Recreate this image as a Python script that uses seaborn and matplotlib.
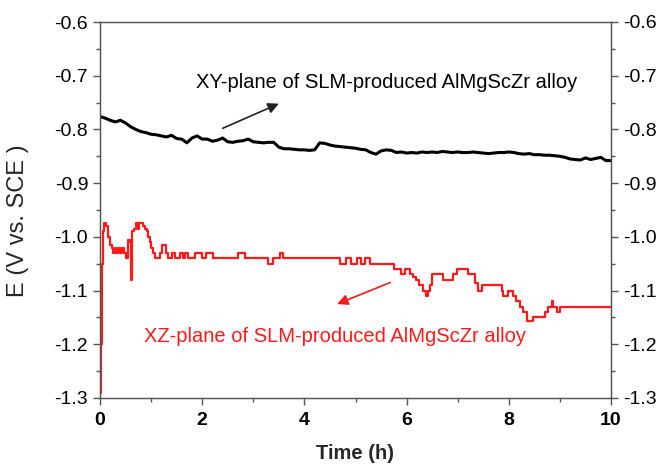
import numpy as np
import pandas as pd
import matplotlib
matplotlib.use("Agg")
import matplotlib.pyplot as plt
import seaborn as sns
from matplotlib.ticker import MultipleLocator, FormatStrFormatter

# ---- data ----
xy_time = [round(0.1 * i, 1) for i in range(101)]
xy_e = [-0.776, -0.779, -0.783, -0.786, -0.783, -0.788, -0.795, -0.800, -0.804, -0.806,
        -0.809, -0.810, -0.812, -0.814, -0.811, -0.817, -0.818, -0.825, -0.816, -0.812,
        -0.818, -0.818, -0.822, -0.820, -0.816, -0.823, -0.824, -0.822, -0.821, -0.818,
        -0.823, -0.824, -0.825, -0.824, -0.824, -0.833, -0.836, -0.836, -0.837, -0.838,
        -0.838, -0.839, -0.838, -0.825, -0.826, -0.829, -0.831, -0.832, -0.833, -0.834,
        -0.835, -0.837, -0.838, -0.843, -0.846, -0.840, -0.838, -0.839, -0.843, -0.842,
        -0.844, -0.843, -0.844, -0.842, -0.843, -0.842, -0.843, -0.841, -0.842, -0.843,
        -0.842, -0.843, -0.843, -0.842, -0.843, -0.844, -0.845, -0.844, -0.843, -0.843,
        -0.842, -0.843, -0.845, -0.846, -0.845, -0.847, -0.847, -0.848, -0.848, -0.849,
        -0.850, -0.852, -0.855, -0.856, -0.857, -0.853, -0.856, -0.854, -0.852, -0.858,
        -0.858]

xz_time = [0.00, 0.02, 0.04, 0.06, 0.08, 0.12, 0.16, 0.20, 0.23, 0.26, 0.29, 0.32, 0.36,
           0.40, 0.44, 0.47, 0.51, 0.55, 0.59, 0.61, 0.63, 0.66, 0.70, 0.74, 0.77, 0.84,
           0.88, 0.91, 0.94, 0.97, 1.00, 1.04, 1.08, 1.17, 1.21, 1.30, 1.34, 1.40, 1.47,
           1.56, 1.62, 1.66, 1.72, 1.86, 1.99, 2.08, 2.21, 2.70, 2.83, 3.29, 3.39, 3.52,
           3.58, 4.69, 4.82, 4.92, 5.02, 5.11, 5.18, 5.28, 5.75, 5.90, 5.97, 6.07, 6.12,
           6.19, 6.25, 6.32, 6.38, 6.42, 6.45, 6.50, 6.72, 6.91, 6.98, 7.21, 7.34, 7.40,
           7.47, 7.86, 7.88, 7.99, 8.09, 8.15, 8.22, 8.28, 8.35, 8.48, 8.71, 8.77, 8.84,
           8.87, 8.94, 9.00, 10.00]
xz_e = [-1.29, -1.20, -1.05, -0.99, -0.975, -0.98, -1.00, -1.015, -1.02, -1.03, -1.02,
        -1.03, -1.02, -1.03, -1.02, -1.03, -1.04, -1.005, -1.01, -1.08, -0.99, -0.985,
        -0.975, -0.985, -0.975, -0.98, -0.985, -0.99, -1.00, -1.01, -1.02, -1.03, -1.04,
        -1.03, -1.015, -1.03, -1.04, -1.03, -1.04, -1.03, -1.04, -1.03, -1.04, -1.03,
        -1.04, -1.03, -1.04, -1.03, -1.04, -1.05, -1.04, -1.03, -1.04, -1.05, -1.04,
        -1.05, -1.04, -1.05, -1.04, -1.05, -1.06, -1.07, -1.06, -1.07, -1.075, -1.08,
        -1.09, -1.10, -1.11, -1.10, -1.09, -1.07, -1.08, -1.07, -1.06, -1.07, -1.085,
        -1.10, -1.09, -1.10, -1.11, -1.10, -1.11, -1.12, -1.13, -1.14, -1.157, -1.15,
        -1.14, -1.13, -1.12, -1.13, -1.14, -1.13, -1.13]

y_ticks = [-1.3, -1.2, -1.1, -1.0, -0.9, -0.8, -0.7, -0.6]
x_ticks = [0, 2, 4, 6, 8, 10]
label_xy = "XY-plane of SLM-produced AlMgScZr alloy"
label_xz = "XZ-plane of SLM-produced AlMgScZr alloy"

# ---- style ----
sns.set_style("ticks")
plt.rcParams["font.family"] = ["Liberation Sans", "DejaVu Sans"]
plt.rcParams["axes.unicode_minus"] = False

fig = plt.figure(figsize=(6.64, 4.67), dpi=100)
ax = fig.add_axes([100 / 664, 1 - 398 / 467, 511 / 664, 376 / 467])

df_xy = pd.DataFrame({"t": xy_time, "E": xy_e})
df_xz = pd.DataFrame({"t": xz_time, "E": xz_e})

sns.lineplot(data=df_xy, x="t", y="E", ax=ax, color="black", linewidth=2.2,
             estimator=None, sort=False)
sns.lineplot(data=df_xz, x="t", y="E", ax=ax, color="#ff1a1a", linewidth=1.6,
             estimator=None, sort=False, drawstyle="steps-post")

ax.set_xlim(0, 10)
ax.set_ylim(-1.3, -0.6)
ax.set_xticks(x_ticks)
ax.set_yticks(y_ticks)
ax.xaxis.set_minor_locator(MultipleLocator(1))
ax.yaxis.set_minor_locator(MultipleLocator(0.05))
ax.yaxis.set_major_formatter(FormatStrFormatter("%.1f"))

spine_col = "#555555"
for s in ax.spines.values():
    s.set_visible(True)
    s.set_color(spine_col)
    s.set_linewidth(1.0)

ax.tick_params(axis="both", which="major", direction="out", length=5, width=1,
               color=spine_col, labelcolor="black")
ax.tick_params(axis="y", labelsize=14)
ax.tick_params(axis="x", labelsize=14, pad=5)
for lab in ax.get_xticklabels():
    lab.set_fontweight("bold")
ax.tick_params(axis="both", which="minor", direction="out", length=3, width=1,
               color=spine_col)

ax2 = ax.twinx()
ax2.set_ylim(-1.3, -0.6)
ax2.set_yticks(y_ticks)
ax2.yaxis.set_minor_locator(MultipleLocator(0.05))
ax2.yaxis.set_major_formatter(FormatStrFormatter("%.1f"))
ax2.tick_params(axis="y", which="major", direction="out", length=5, width=1,
                color=spine_col, labelsize=14, labelcolor="black")
ax2.tick_params(axis="y", which="minor", direction="out", length=3, width=1,
                color=spine_col)
for s in ax2.spines.values():
    s.set_color(spine_col)

ax.set_xlabel("Time (h)", fontsize=14.5, fontweight="bold", labelpad=11)
ax.set_ylabel("E (V vs. SCE )", fontsize=17)
ax.yaxis.set_label_coords(-0.138, 0.471)

ax.text(5.61, -0.7233, label_xy, ha="center", va="baseline", fontsize=14.5,
        color="black")
ax.text(4.60, -1.1952, label_xz, ha="center", va="baseline", fontsize=14.5,
        color="#ff1a1a")

ax.annotate("", xy=(3.55, -0.750), xytext=(2.35, -0.800),
            arrowprops=dict(arrowstyle="-|>", color="#222222", lw=1.2,
                            mutation_scale=16))
ax.annotate("", xy=(4.59, -1.127), xytext=(5.73, -1.083),
            arrowprops=dict(arrowstyle="-|>", color="#ff1a1a", lw=1.2,
                            mutation_scale=16))

fig.savefig("out.png", dpi=100)
